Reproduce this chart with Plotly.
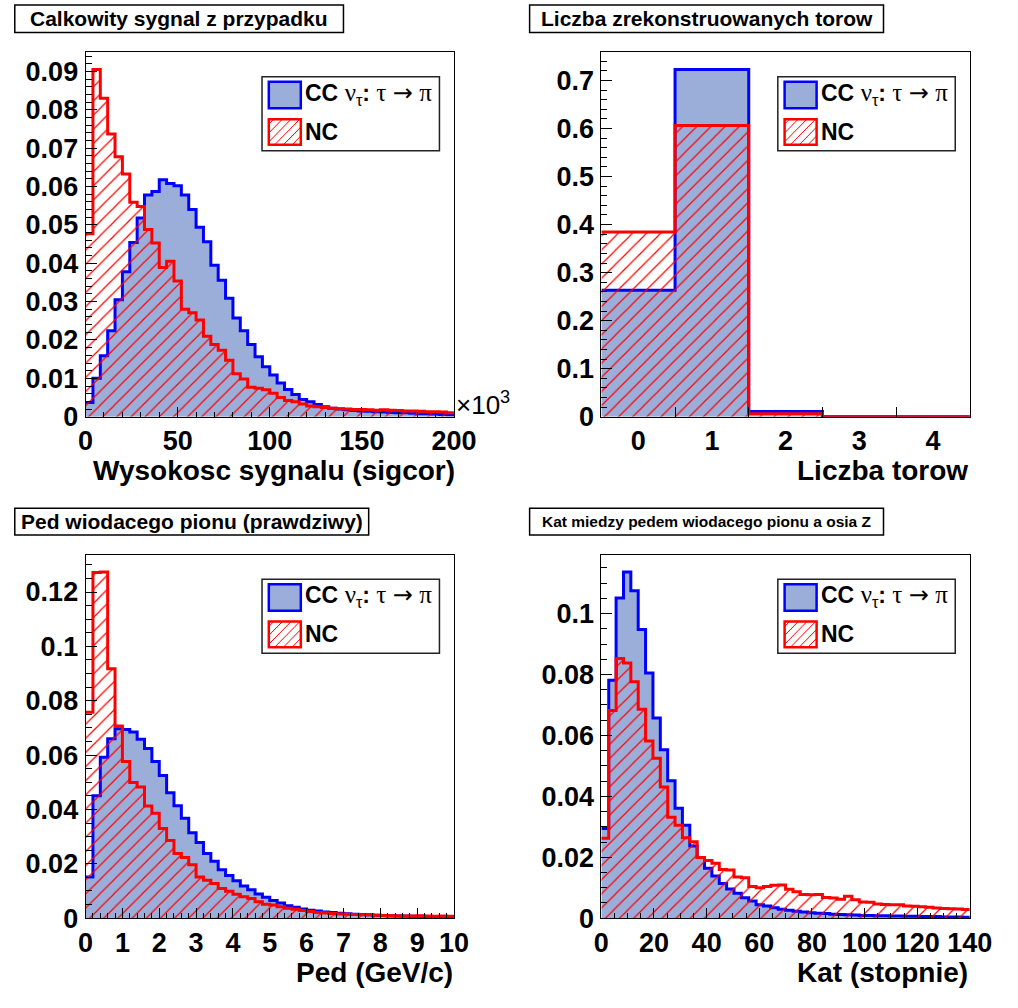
import plotly.graph_objects as go

W, H = 1018, 1008

# ---------------- data ----------------
# Panel 1: Calkowity sygnal z przypadku (x in units of 10^3), 50 bins of width 4
sig_xmin, sig_binw = 0.0, 4.0
sig_cc = [0.0037, 0.0100, 0.0159, 0.0224, 0.0305, 0.0378, 0.0454, 0.0518, 0.0578, 0.0587,
          0.0618, 0.0608, 0.0602, 0.0578, 0.0540, 0.0494, 0.0456, 0.0395, 0.0356, 0.0309,
          0.0257, 0.0224, 0.0188, 0.0156, 0.0130, 0.0109, 0.0088, 0.0071, 0.0058, 0.0045,
          0.0039, 0.0032, 0.0026, 0.0022, 0.0020, 0.0018, 0.0016, 0.0015, 0.0014, 0.0013,
          0.0012, 0.0011, 0.0010, 0.0010, 0.0009, 0.0008, 0.0008, 0.0007, 0.0006, 0.0005]
sig_nc = [0.0477, 0.0905, 0.0830, 0.0737, 0.0678, 0.0633, 0.0559, 0.0548, 0.0488, 0.0453,
          0.0389, 0.0405, 0.0354, 0.0280, 0.0271, 0.0252, 0.0210, 0.0188, 0.0173, 0.0147,
          0.0112, 0.0098, 0.0077, 0.0074, 0.0070, 0.0061, 0.0050, 0.0042, 0.0039, 0.0033,
          0.0028, 0.0026, 0.0024, 0.0022, 0.0021, 0.0020, 0.0019, 0.0019, 0.0018, 0.0017,
          0.0018, 0.0017, 0.0016, 0.0015, 0.0015, 0.0014, 0.0013, 0.0013, 0.0012, 0.0010]

# Panel 2: Liczba zrekonstruowanych torow, 5 bins centred on 0..4
tor_xmin, tor_binw = -0.5, 1.0
tor_cc = [0.2635, 0.7228, 0.0110, 0.0003, 0.0000]
tor_nc = [0.3847, 0.6064, 0.0060, 0.0005, 0.0001]

# Panel 3: Ped wiodacego pionu, 50 bins of width 0.2 GeV/c
ped_xmin, ped_binw = 0.0, 0.2
ped_cc = [0.0151, 0.0450, 0.0592, 0.0660, 0.0697, 0.0694, 0.0685, 0.0658, 0.0624, 0.0576,
          0.0525, 0.0461, 0.0414, 0.0368, 0.0314, 0.0278, 0.0238, 0.0209, 0.0178, 0.0157,
          0.0138, 0.0118, 0.0104, 0.0089, 0.0077, 0.0065, 0.0056, 0.0046, 0.0040, 0.0034,
          0.0029, 0.0026, 0.0023, 0.0021, 0.0018, 0.0016, 0.0014, 0.0013, 0.0012, 0.0011,
          0.0010, 0.0009, 0.0008, 0.0008, 0.0007, 0.0007, 0.0006, 0.0006, 0.0005, 0.0005]
ped_nc = [0.0758, 0.1272, 0.1274, 0.0918, 0.0707, 0.0576, 0.0499, 0.0483, 0.0413, 0.0386,
          0.0330, 0.0286, 0.0238, 0.0223, 0.0196, 0.0151, 0.0139, 0.0127, 0.0109, 0.0099,
          0.0088, 0.0079, 0.0072, 0.0060, 0.0051, 0.0048, 0.0042, 0.0036, 0.0033, 0.0028,
          0.0024, 0.0021, 0.0019, 0.0017, 0.0015, 0.0014, 0.0013, 0.0012, 0.0012, 0.0011,
          0.0010, 0.0009, 0.0009, 0.0008, 0.0008, 0.0009, 0.0008, 0.0007, 0.0008, 0.0007]

# Panel 4: Kat miedzy pedem wiodacego pionu a osia Z, 50 bins of width 2.8 deg
kat_xmin, kat_binw = 0.0, 2.8
kat_cc = [0.0294, 0.0781, 0.1051, 0.1137, 0.1075, 0.0948, 0.0805, 0.0657, 0.0553, 0.0451,
          0.0361, 0.0305, 0.0237, 0.0199, 0.0164, 0.0138, 0.0114, 0.0096, 0.0082, 0.0067,
          0.0056, 0.0044, 0.0040, 0.0034, 0.0029, 0.0026, 0.0023, 0.0020, 0.0018, 0.0016,
          0.0015, 0.0013, 0.0012, 0.0011, 0.0010, 0.0009, 0.0009, 0.0008, 0.0008, 0.0007,
          0.0007, 0.0006, 0.0006, 0.0005, 0.0005, 0.0005, 0.0004, 0.0004, 0.0004, 0.0003]
kat_nc = [0.0262, 0.0682, 0.0853, 0.0838, 0.0776, 0.0686, 0.0582, 0.0525, 0.0431, 0.0331,
          0.0305, 0.0264, 0.0251, 0.0199, 0.0189, 0.0180, 0.0160, 0.0158, 0.0135, 0.0133,
          0.0104, 0.0100, 0.0104, 0.0108, 0.0109, 0.0095, 0.0087, 0.0078, 0.0077, 0.0078,
          0.0068, 0.0066, 0.0062, 0.0072, 0.0060, 0.0053, 0.0052, 0.0046, 0.0045, 0.0044,
          0.0044, 0.0040, 0.0039, 0.0037, 0.0036, 0.0033, 0.0032, 0.0031, 0.0030, 0.0028]

panel_titles = ["Calkowity sygnal z przypadku", "Liczba zrekonstruowanych torow",
                "Ped wiodacego pionu (prawdziwy)", "Kat miedzy pedem wiodacego pionu a osia Z"]
x_titles = ["Wysokosc sygnalu (sigcor)", "Liczba torow", "Ped (GeV/c)", "Kat (stopnie)"]
SERIF = "font-family:Liberation Serif;font-size:25px"
legend_labels = ["<b>CC</b> <span style='" + SERIF + "'>\u03bd</span><sub>\u03c4</sub><b>:</b>"
                 " <span style='" + SERIF + "'>\u03c4</span>"
                 " <span style='font-family:DejaVu Sans;font-size:24px'>\u2192</span>"
                 " <span style='" + SERIF + "'>\u03c0</span>",
                 "<b>NC</b>"]

# ---------------- style ----------------
CC_LINE = "#0000ff"
CC_FILL = "#9baed9"
NC_LINE = "#ff0000"
FONT = "Liberation Sans"

panels = [
    dict(xmin=sig_xmin, w=sig_binw, cc=sig_cc, nc=sig_nc, xr=[0, 200], xd=50, xm=10, yd=0.01, ym=0.002,
         box=(80, 53, 460, 423), tbox=(7, 5, 346, 33), tsize=21, xt_y=478, xt_r=463),
    dict(xmin=tor_xmin, w=tor_binw, cc=tor_cc, nc=tor_nc, xr=[-0.5, 4.5], xd=1, xm=None, yd=0.1, ym=0.02,
         box=(612, 53, 992, 423), tbox=(538, 5, 903, 33), tsize=21, xt_y=478, xt_r=992),
    dict(xmin=ped_xmin, w=ped_binw, cc=ped_cc, nc=ped_nc, xr=[0, 10], xd=1, xm=0.2, yd=0.02, ym=0.005,
         box=(80, 563, 460, 932), tbox=(7, 516, 372, 543), tsize=21, xt_y=987, xt_r=461),
    dict(xmin=kat_xmin, w=kat_binw, cc=kat_cc, nc=kat_nc, xr=[0, 140], xd=20, xm=5, yd=0.02, ym=0.005,
         box=(612, 563, 992, 932), tbox=(538, 516, 903, 543), tsize=15.5, xt_y=987, xt_r=992),
]


def px(x):
    return x / W


def py(y):
    return 1 - y / H


def step(xmin, w, vals):
    xs = [xmin + w * i for i in range(len(vals) + 1)]
    ys = list(vals) + [vals[-1]]
    return xs, ys


fig = go.Figure()
shapes = []
annotations = []
layout_axes = {}

for i, p in enumerate(panels):
    n = "" if i == 0 else str(i + 1)
    xa, ya = "x" + n, "y" + n
    xs, ys = step(p["xmin"], p["w"], p["cc"])
    fig.add_trace(go.Scatter(x=xs, y=ys, mode="lines", line=dict(color=CC_LINE, width=3, shape="hv"),
                             fill="tozeroy", fillcolor=CC_FILL, xaxis=xa, yaxis=ya,
                             showlegend=False, hoverinfo="skip"))
    xs, ys = step(p["xmin"], p["w"], p["nc"])
    fig.add_trace(go.Scatter(x=xs, y=ys, mode="lines", line=dict(color=NC_LINE, width=3, shape="hv"),
                             fill="tozeroy", fillcolor="rgba(0,0,0,0)",
                             fillpattern=dict(shape="/", fgcolor=NC_LINE, bgcolor="rgba(0,0,0,0)",
                                              size=10, solidity=0.12, fillmode="replace"),
                             xaxis=xa, yaxis=ya, showlegend=False, hoverinfo="skip"))

    x0, y0, x1, y1 = p["box"]
    ymax = 1.05 * max(max(p["cc"]), max(p["nc"]))
    tickfont = dict(family=FONT, size=27, color="black", weight="bold")
    xaxis = dict(domain=[px(x0), px(x1)], range=p["xr"], anchor=ya, showline=True, linecolor="black",
                 linewidth=1, mirror=True, showgrid=False, zeroline=False, ticks="inside",
                 ticklen=10, tickwidth=1, tickcolor="black", tickmode="linear", tick0=0, dtick=p["xd"],
                 tickfont=tickfont, fixedrange=True)
    if p["xm"] is not None:
        xaxis["minor"] = dict(ticks="inside", ticklen=5, tickcolor="black", tickwidth=1,
                              tick0=0, dtick=p["xm"], showgrid=False)
    else:
        xaxis["ticklen"] = 0
        xaxis["minor"] = dict(ticks="inside", ticklen=10, tickcolor="black", tickwidth=1,
                              tick0=0.5, dtick=1, showgrid=False)
    yaxis = dict(domain=[py(y1), py(y0)], range=[0, ymax], anchor=xa, showline=True, linecolor="black",
                 linewidth=1, mirror=True, showgrid=False, zeroline=False, ticks="inside",
                 ticklen=11, tickwidth=1, tickcolor="black", tickmode="linear", tick0=0, dtick=p["yd"],
                 tickfont=tickfont, ticklabelstandoff=1, fixedrange=True,
                 minor=dict(ticks="inside", ticklen=6, tickcolor="black", tickwidth=1,
                            tick0=0, dtick=p["ym"], showgrid=False))
    layout_axes["xaxis" + n] = xaxis
    layout_axes["yaxis" + n] = yaxis

    # panel title box
    tx0, ty0, tx1, ty1 = p["tbox"]
    shapes.append(dict(type="rect", xref="paper", yref="paper", x0=px(tx0), x1=px(tx1), y0=py(ty1), y1=py(ty0),
                       line=dict(color="black", width=1.5), fillcolor="white", layer="above"))
    annotations.append(dict(xref="paper", yref="paper", x=px((tx0 + tx1) / 2), y=py((ty0 + ty1) / 2),
                            text=panel_titles[i], showarrow=False, xanchor="center", yanchor="middle",
                            font=dict(family=FONT, size=p["tsize"], color="black", weight="bold")))
    # x axis title
    annotations.append(dict(xref="paper", yref="paper", x=px(p["xt_r"]), y=py(p["xt_y"]),
                            text=x_titles[i], showarrow=False, xanchor="right", yanchor="middle",
                            font=dict(family=FONT, size=28, color="black", weight="bold")))

    # legend box
    lx0, ly0, lx1, ly1 = x0 + 182, y0 + 25, x0 + 365, y0 + 100
    shapes.append(dict(type="rect", xref="paper", yref="paper", x0=px(lx0), x1=px(lx1), y0=py(ly1), y1=py(ly0),
                       line=dict(color="#222222", width=1.5), fillcolor="white", layer="above"))
    # CC swatch
    sx0, sx1 = lx0 + 7, lx0 + 40
    shapes.append(dict(type="rect", xref="paper", yref="paper", x0=px(sx0), x1=px(sx1),
                       y0=py(ly0 + 32), y1=py(ly0 + 5), line=dict(color=CC_LINE, width=2.5),
                       fillcolor=CC_FILL, layer="above"))
    # NC swatch with hatch
    hy0, hy1 = ly0 + 43, ly0 + 69
    c = sx0 + hy0 + 5
    while c < sx1 + hy1:
        xa_ = max(sx0, c - hy1)
        xb_ = min(sx1, c - hy0)
        if xb_ > xa_:
            shapes.append(dict(type="line", xref="paper", yref="paper", x0=px(xa_), y0=py(c - xa_),
                               x1=px(xb_), y1=py(c - xb_), line=dict(color=NC_LINE, width=1), layer="above"))
        c += 9
    shapes.append(dict(type="rect", xref="paper", yref="paper", x0=px(sx0), x1=px(sx1),
                       y0=py(hy1), y1=py(hy0), line=dict(color=NC_LINE, width=2.5),
                       fillcolor="rgba(0,0,0,0)", layer="above"))
    annotations.append(dict(xref="paper", yref="paper", x=px(lx0 + 42), y=py(ly0 + 17),
                            text=legend_labels[0], showarrow=False, xanchor="left", yanchor="middle",
                            font=dict(family=FONT, size=23, color="black")))
    annotations.append(dict(xref="paper", yref="paper", x=px(lx0 + 42), y=py(ly0 + 56),
                            text=legend_labels[1], showarrow=False, xanchor="left", yanchor="middle",
                            font=dict(family=FONT, size=23, color="black")))

# x10^3 exponent label on panel 1
annotations.append(dict(xref="paper", yref="paper", x=px(460), y=py(410), text="\u00d710<sup>3</sup>",
                        showarrow=False, xanchor="left", yanchor="middle",
                        font=dict(family=FONT, size=26, color="black")))

fig.update_layout(width=W, height=H, autosize=False, margin=dict(l=0, r=0, t=0, b=0),
                  paper_bgcolor="white", plot_bgcolor="white", showlegend=False,
                  shapes=shapes, annotations=annotations, **layout_axes)

fig.write_html("out.html")
